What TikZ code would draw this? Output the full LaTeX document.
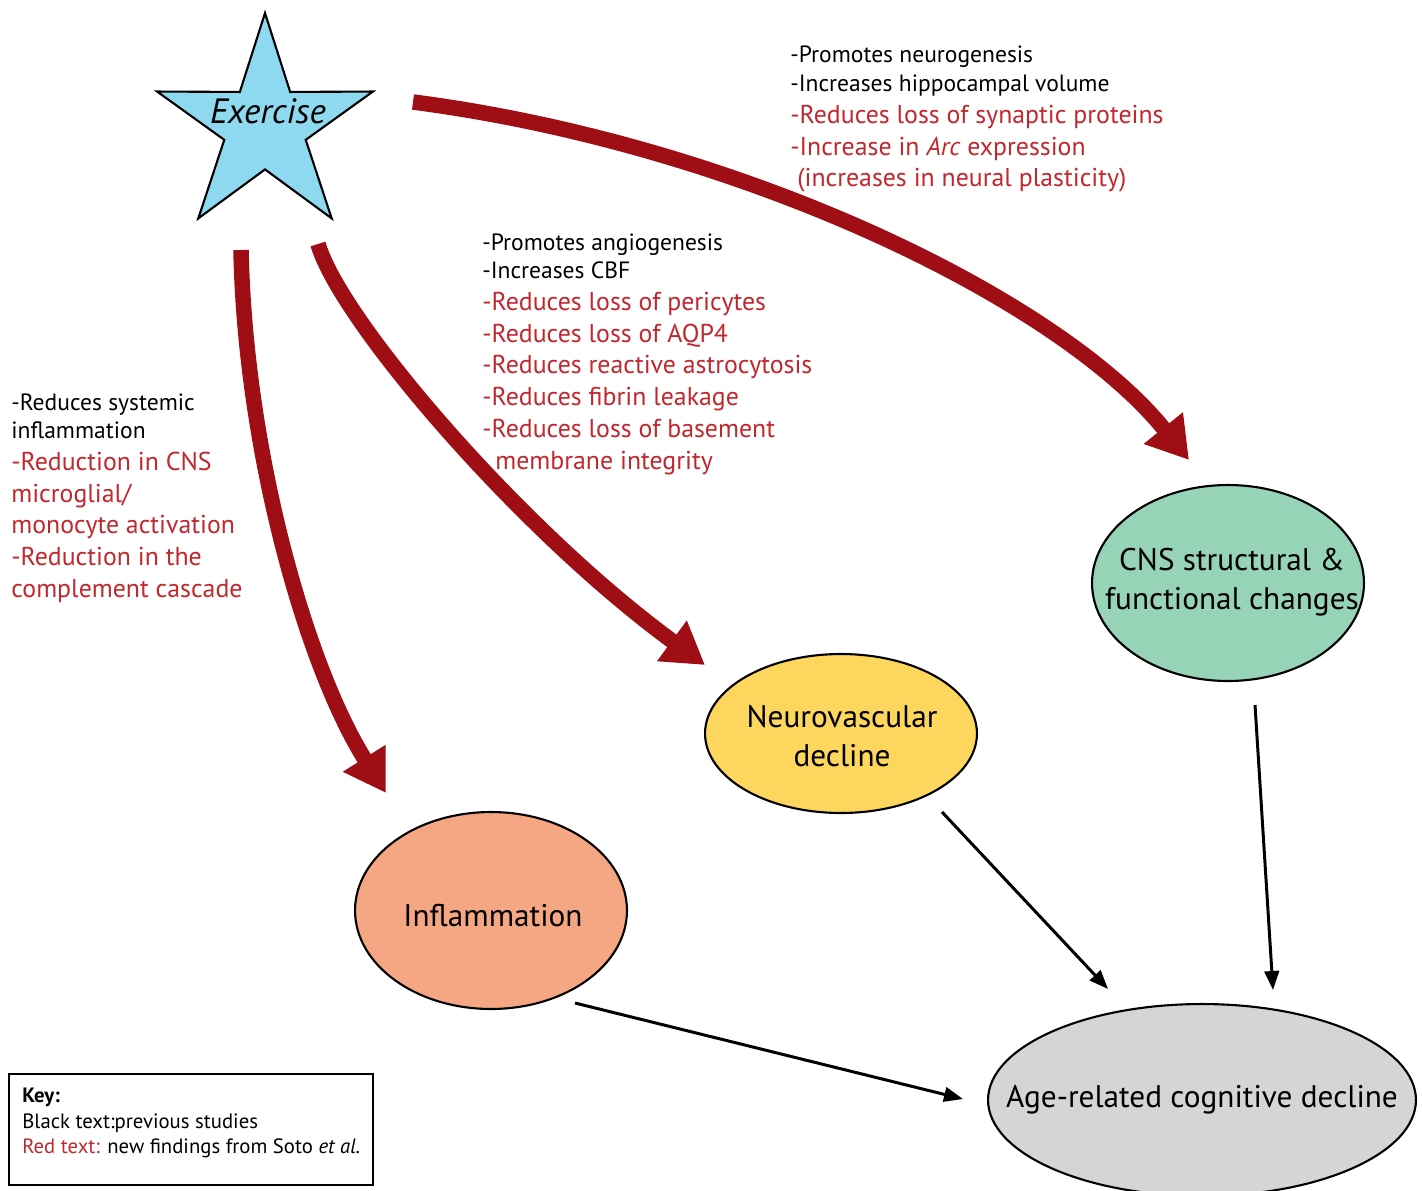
\documentclass[tikz,border=0pt]{standalone}
\usepackage{fontspec}
\setmainfont{PT Sans}
\usetikzlibrary{arrows.meta,shapes.geometric}
\definecolor{starblue}{RGB}{142,216,240}
\definecolor{cnsgreen}{RGB}{151,211,183}
\definecolor{nvyellow}{RGB}{252,214,93}
\definecolor{inflsalmon}{RGB}{245,166,130}
\definecolor{agegray}{RGB}{212,213,215}
\definecolor{txtred}{RGB}{193,39,45}
\definecolor{arrowred}{RGB}{158,14,20}
\begin{document}
\begin{tikzpicture}[x=0.02cm,y=-0.02cm,
  blk/.style={anchor=base west,inner sep=0,font=\fontsize{13.4}{16}\selectfont,text=black},
  rtx/.style={anchor=base west,inner sep=0,font=\fontsize{14.7}{17}\selectfont,text=txtred},
  keytx/.style={anchor=base west,inner sep=0,font=\fontsize{11.8}{14}\selectfont},
  bigarrow/.style={draw=arrowred,line width=0.31cm,-{Triangle[length=0.82cm,width=0.95cm]}},
  smallarrow/.style={draw=black,line width=1.7pt,-{Triangle[length=0.38cm,width=0.29cm]}},
  blob/.style={ellipse,draw=black,line width=1.2pt,inner sep=0},
  lbl/.style={font=\fontsize{17.8}{22}\selectfont,align=center,inner sep=0}
]
\useasboundingbox (0,0) rectangle (1422,1190);

% star
\node[star,star points=5,star point ratio=2.65,minimum size=4.54cm,draw=black,
      fill=starblue,line width=1.2pt,inner sep=0] (ex) at (265,126.6) {};
\node[anchor=base,inner sep=0,font=\fontsize{20}{24}\selectfont\itshape] (exl) at (268,123) {Exercise};

% ellipses
\node[blob,fill=cnsgreen,minimum width=5.44cm,minimum height=3.92cm] (cns) at (1228,583) {};
\node[lbl] (cnsl) at (1232,582) {CNS structural \&\\functional changes};
\node[blob,fill=nvyellow,minimum width=5.44cm,minimum height=3.18cm] (nv) at (841,733.5) {};
\node[lbl] (nvl) at (842,736) {Neurovascular\\decline};
\node[blob,fill=inflsalmon,minimum width=5.44cm,minimum height=3.94cm] (inf) at (491,910.5) {};
\node[lbl] (infl) at (493,916) {Inflammation};
\node[blob,fill=agegray,minimum width=8.56cm,minimum height=3.84cm] (age) at (1202,1100) {};
\node[lbl] (agel) at (1202,1100) {Age-related cognitive decline};

% big red arrows
\coordinate (a1s) at (413,102);
\coordinate (a1e) at (1189,460);
\draw[bigarrow] (a1s) .. controls (743,145) and (1060,300) .. (a1e);
\coordinate (a2s) at (318,244);
\coordinate (a2e) at (705,665);
\draw[bigarrow] (a2s) .. controls (340,320) and (520,530) .. (a2e);
\coordinate (a3s) at (241,250);
\coordinate (a3e) at (386,793);
\draw[bigarrow] (a3s) .. controls (245,450) and (306,666) .. (a3e);

% black arrows
\coordinate (b1s) at (942,812);
\coordinate (b1e) at (1108,989);
\draw[smallarrow] (b1s) -- (b1e);
\coordinate (b2s) at (1255,705);
\coordinate (b2e) at (1273,990);
\draw[smallarrow] (b2s) -- (b2e);
\coordinate (b3s) at (575,1003);
\coordinate (b3e) at (963,1099);
\draw[smallarrow] (b3s) -- (b3e);

% top-right text
\node[blk] (t1) at (790,62) {-Promotes neurogenesis};
\node[blk] (t2) at (790,91) {-Increases hippocampal volume};
\node[rtx] (t3) at (790,123) {-Reduces loss of synaptic proteins};
\node[rtx] (t4) at (790,155) {-Increase in \textit{Arc} expression};
\node[rtx] (t5) at (797,186) {(increases in neural plasticity)};

% middle text
\node[blk] (m1) at (482,250) {-Promotes angiogenesis};
\node[blk] (m2) at (482,278.5) {-Increases CBF};
\node[rtx] (m3) at (482,310) {-Reduces loss of pericytes};
\node[rtx] (m4) at (482,342) {-Reduces loss of AQP4};
\node[rtx] (m5) at (482,373.5) {-Reduces reactive astrocytosis};
\node[rtx] (m6) at (482,405) {-Reduces fibrin leakage};
\node[rtx] (m7) at (482,437) {-Reduces loss of basement};
\node[rtx] (m8) at (495,469) {membrane integrity};

% left text
\node[blk] (l1) at (11,410) {-Reduces systemic};
\node[blk] (l2) at (11,438) {inflammation};
\node[rtx] (l3) at (11,470) {-Reduction in CNS};
\node[rtx] (l4) at (11,502) {microglial/};
\node[rtx] (l5) at (11,533) {monocyte activation};
\node[rtx] (l6) at (11,565) {-Reduction in the};
\node[rtx] (l7) at (11,597) {complement cascade};

% key
\node[draw=black,line width=1.2pt,anchor=north west,minimum width=7.28cm,minimum height=2.22cm,inner sep=0] (key) at (8,1073) {};
\node[keytx] (k1) at (22,1102) {\textbf{Key:}};
\node[keytx] (k2) at (22,1128) {Black text:previous studies};
\node[keytx] (k3) at (22,1153) {\textcolor{txtred}{Red text:} new findings from Soto \textit{et al.}};
\end{tikzpicture}
\end{document}
